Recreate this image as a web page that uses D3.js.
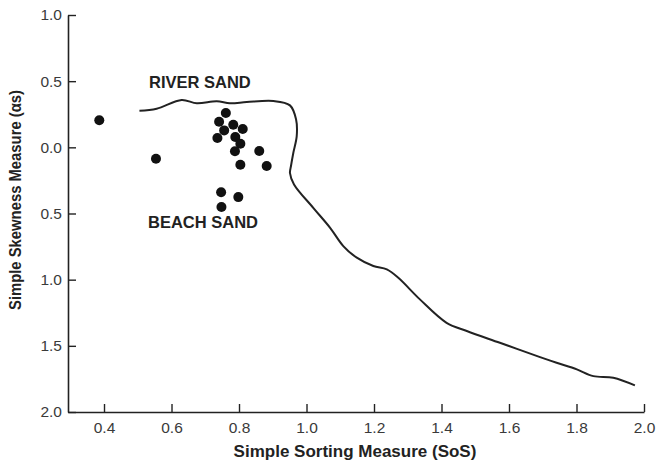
<!DOCTYPE html>
<html>
<head>
<meta charset="utf-8">
<script src="https://cdn.jsdelivr.net/npm/d3@7"></script>
<style>
  body { margin: 0; background: #fff; }
  text { font-family: "Liberation Sans", Arial, sans-serif; }
</style>
</head>
<body>
<script>
// sample points (sorting, skewness)
const sortingVals = [0.386, 0.554, 0.761, 0.741, 0.783, 0.811, 0.756, 0.736, 0.789, 0.804, 0.788, 0.860, 0.804, 0.882, 0.747, 0.798, 0.748];
const skewVals = [0.204, -0.086, 0.259, 0.193, 0.171, 0.138, 0.128, 0.070, 0.078, 0.027, -0.030, -0.028, -0.131, -0.141, -0.340, -0.376, -0.451];

// river / beach boundary line
const lineX = [0.505, 0.556, 0.630, 0.675, 0.734, 0.773, 0.823, 0.902, 0.951, 0.969, 0.971, 0.961, 0.954, 0.951, 0.963, 1.020, 1.070, 1.109, 1.149, 1.198, 1.238, 1.272, 1.336, 1.415, 1.475, 1.573, 1.692, 1.741, 1.801, 1.850, 1.909, 1.973];
const lineY = [0.277, 0.292, 0.358, 0.333, 0.348, 0.333, 0.342, 0.350, 0.317, 0.212, 0.085, -0.041, -0.141, -0.194, -0.280, -0.457, -0.608, -0.746, -0.834, -0.897, -0.922, -0.986, -1.149, -1.326, -1.388, -1.477, -1.585, -1.628, -1.678, -1.729, -1.741, -1.799];

const xTicks = [0.4, 0.6, 0.8, 1.0, 1.2, 1.4, 1.6, 1.8, 2.0];
const yTicks = [1.0, 0.5, 0.0, -0.5, -1.0, -1.5, -2.0];

const w = 657;
const h = 466;

const svg = d3.select("body").append("svg").attr("width", w).attr("height", h);

const xScale = d3.scaleLinear().domain([0.2933, 2.0]).range([68, 644]);
const yScale = d3.scaleLinear().domain([-2, 1]).range([412, 15]);

const xAxis = d3.axisBottom(xScale)
  .tickValues(xTicks)
  .tickSizeInner(-8)
  .tickSizeOuter(0)
  .tickPadding(10)
  .tickFormat(d3.format(".1f"));

const yAxis = d3.axisLeft(yScale)
  .tickValues(yTicks)
  .tickSizeInner(-8)
  .tickSizeOuter(0)
  .tickPadding(6)
  .tickFormat((d) => d3.format(".1f")(Math.abs(d)));

const gx = svg.append("g").attr("transform", "translate(0,412)").call(xAxis);
const gy = svg.append("g").attr("transform", "translate(68,0)").call(yAxis);

[gx, gy].forEach((g) => {
  g.select(".domain").attr("stroke", "#222").attr("stroke-width", 1.6);
  g.selectAll(".tick line").attr("stroke", "#222").attr("stroke-width", 1.4);
  g.selectAll(".tick text")
    .attr("fill", "#3a3a3a")
    .style("font-size", "15.5px")
    .style("font-family", "'Liberation Sans', Arial, sans-serif");
});

// boundary curve
const linePts = lineX.map((x, i) => [x, lineY[i]]);
svg.append("path")
  .datum(linePts)
  .attr("fill", "none")
  .attr("stroke", "#222")
  .attr("stroke-width", 2)
  .attr("stroke-linejoin", "round")
  .attr("d", d3.line().x((d) => xScale(d[0])).y((d) => yScale(d[1])).curve(d3.curveCatmullRom));

// points
svg.selectAll("circle")
  .data(sortingVals.map((x, i) => [x, skewVals[i]]))
  .enter()
  .append("circle")
  .attr("cx", (d) => xScale(d[0]))
  .attr("cy", (d) => yScale(d[1]))
  .attr("r", 5)
  .attr("fill", "#111");

// labels
svg.append("text")
  .attr("x", 149).attr("y", 88)
  .attr("font-weight", "bold").attr("font-size", 16.5).attr("fill", "#222")
  .text("RIVER SAND");

svg.append("text")
  .attr("x", 148).attr("y", 228)
  .attr("font-weight", "bold").attr("font-size", 16.5).attr("fill", "#222")
  .text("BEACH SAND");

// axis titles
svg.append("text")
  .attr("x", 355).attr("y", 457)
  .attr("text-anchor", "middle")
  .attr("font-weight", "bold").attr("font-size", 17).attr("fill", "#222")
  .text("Simple Sorting Measure (SoS)");

svg.append("text")
  .attr("transform", "translate(21,200) rotate(-90)")
  .attr("text-anchor", "middle")
  .attr("font-weight", "bold").attr("font-size", 17).attr("fill", "#222")
  .attr("textLength", 220).attr("lengthAdjust", "spacingAndGlyphs")
  .text("Simple Skewness Measure (αs)");
</script>
</body>
</html>
